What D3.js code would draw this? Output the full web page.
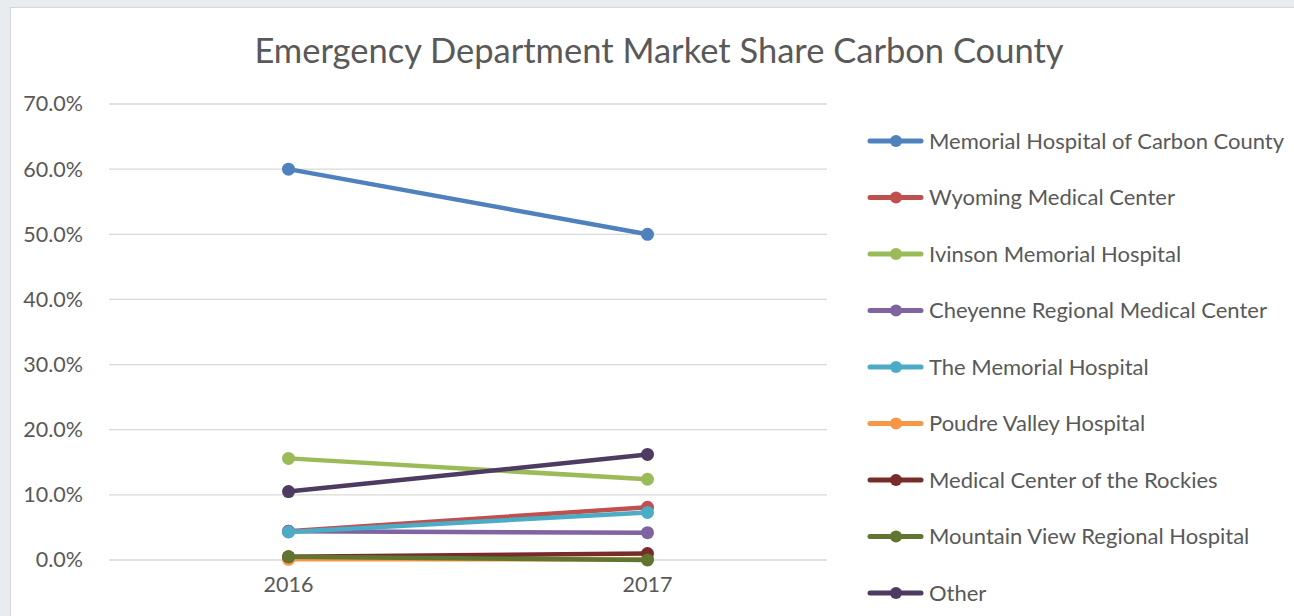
<!DOCTYPE html>
<html>
<head>
<meta charset="utf-8">
<script src="https://cdn.jsdelivr.net/npm/d3@7"></script>
<style>
    body { margin: 0; background: #e8ecef; overflow: hidden; }
    #chart_div { position: absolute; left: 0; top: 0; }
</style>
</head>
<body>
<div id="chart_div"></div>
<script>
const years = ["2016", "2017"];
const hospitals = [
    "Memorial Hospital of Carbon County",
    "Wyoming Medical Center",
    "Ivinson Memorial Hospital",
    "Cheyenne Regional Medical Center",
    "The Memorial Hospital",
    "Poudre Valley Hospital",
    "Medical Center of the Rockies",
    "Mountain View Regional Hospital",
    "Other"
];
// share in percent, [2016, 2017]
const memorialCarbon = [60.0, 50.0];
const wyomingMedical = [4.4, 8.1];
const ivinson = [15.6, 12.4];
const cheyenne = [4.4, 4.2];
const theMemorial = [4.3, 7.3];
const poudre = [0.1, 0.1];
const rockies = [0.5, 1.0];
const mountainView = [0.5, 0.0];
const other = [10.5, 16.2];
const yTicks = [0, 10, 20, 30, 40, 50, 60, 70];
const colors = ["#4F81BD", "#C0504D", "#9BBB59", "#8064A2", "#4BACC6", "#F79646", "#772C2A", "#5F7530", "#4D3B62"];

const allValues = [memorialCarbon, wyomingMedical, ivinson, cheyenne, theMemorial, poudre, rockies, mountainView, other];
const series = hospitals.map((name, i) => ({
    name: name,
    color: colors[i],
    values: years.map((yr, j) => ({year: yr, value: allValues[i][j]}))
}));

const W = 1294, H = 616;
const font = "Lato, 'Open Sans', sans-serif";

const svg = d3.select("#chart_div")
    .append("svg")
    .attr("width", W)
    .attr("height", H);

// white chart panel
svg.append("rect")
    .attr("x", 10.5).attr("y", 7.5)
    .attr("width", W).attr("height", H)
    .attr("fill", "white")
    .attr("stroke", "#d4d8dc");

const plot = {left: 109, right: 827, top: 104, bottom: 560};

const x = d3.scaleBand()
    .domain(years)
    .range([plot.left, plot.right]);

const y = d3.scaleLinear()
    .domain([0, 70])
    .range([plot.bottom, plot.top]);

svg.append("text")
    .attr("x", 659)
    .attr("y", 63)
    .attr("text-anchor", "middle")
    .style("font-family", font)
    .style("font-size", "34.5px")
    .style("fill", "#595959")
    .text("Emergency Department Market Share Carbon County");

// gridlines
svg.append("g")
    .selectAll("line")
    .data(yTicks)
    .join("line")
    .attr("x1", plot.left)
    .attr("x2", plot.right)
    .attr("y1", d => y(d))
    .attr("y2", d => y(d))
    .attr("stroke", "#d9d9d9")
    .attr("stroke-width", 1.3);

const yAxis = svg.append("g")
    .attr("transform", "translate(" + (plot.left - 23) + ",0)")
    .call(d3.axisLeft(y).tickValues(yTicks).tickSize(0).tickFormat(d => d.toFixed(1) + "%"));
yAxis.select(".domain").remove();
yAxis.selectAll("text")
    .style("font-family", font)
    .style("font-size", "21.5px")
    .style("fill", "#595959");

const xAxis = svg.append("g")
    .attr("transform", "translate(0," + plot.bottom + ")")
    .call(d3.axisBottom(x).tickSize(0));
xAxis.select(".domain").remove();
xAxis.selectAll("text")
    .attr("dy", "1.35em")
    .style("font-family", font)
    .style("font-size", "21.5px")
    .style("fill", "#595959");

const line = d3.line()
    .x(d => x(d.year) + x.bandwidth() / 2)
    .y(d => y(d.value));

const groups = svg.append("g")
    .selectAll("g")
    .data(series)
    .join("g");

groups.append("path")
    .attr("d", d => line(d.values))
    .attr("fill", "none")
    .attr("stroke", d => d.color)
    .attr("stroke-width", 4.5)
    .attr("stroke-linecap", "round");

groups.selectAll("circle")
    .data(d => d.values.map(v => Object.assign({color: d.color}, v)))
    .join("circle")
    .attr("cx", d => x(d.year) + x.bandwidth() / 2)
    .attr("cy", d => y(d.value))
    .attr("r", 6.5)
    .attr("fill", d => d.color);

// legend
const legend = svg.append("g")
    .selectAll("g")
    .data(series)
    .join("g")
    .attr("transform", (d, i) => "translate(868," + (141 + i * 56.5) + ")");

legend.append("line")
    .attr("x1", 2).attr("x2", 53)
    .attr("stroke", d => d.color)
    .attr("stroke-width", 5)
    .attr("stroke-linecap", "round");

legend.append("circle")
    .attr("cx", 28)
    .attr("r", 6)
    .attr("fill", d => d.color);

legend.append("text")
    .attr("x", 61)
    .attr("dy", "0.35em")
    .style("font-family", font)
    .style("font-size", "22px")
    .style("fill", "#595959")
    .text(d => d.name);
</script>
</body>
</html>
